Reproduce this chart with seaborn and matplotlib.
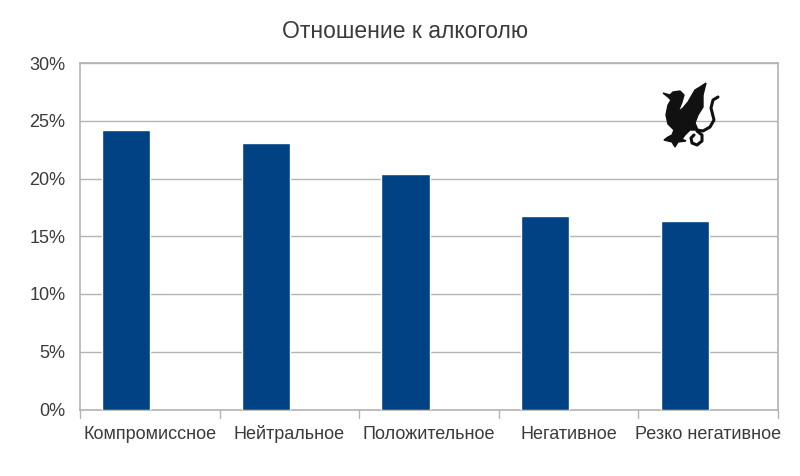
import matplotlib
matplotlib.use("Agg")
import matplotlib.pyplot as plt
import pandas as pd
import seaborn as sns

# Data
categories = ['Компромиссное', 'Нейтральное', 'Положительное', 'Негативное', 'Резко негативное']
values = [24.2, 23.1, 20.4, 16.75, 16.35]
y_ticks = [0, 5, 10, 15, 20, 25, 30]
y_labels = ['0%', '5%', '10%', '15%', '20%', '25%', '30%']

# dragon emblem, traced in image pixels
dragon_body = [(663, 93), (670, 95), (673, 92), (680, 91), (684, 95), (682, 102), (678, 112),
               (683, 108), (688, 102), (695, 90), (700, 87), (706, 83), (703, 95), (703, 107),
               (698, 115), (695, 123), (698, 130), (690, 130), (685, 135), (682, 139), (686, 141),
               (678, 142), (675, 147), (672, 142), (664, 140), (668, 137), (672, 135), (674, 130),
               (668, 124), (666, 115), (668, 105), (671, 100), (668, 97)]
dragon_tail = [(697, 130), (703, 131), (710, 127), (714, 120), (711, 108), (713, 100), (718, 97)]
dragon_coil = [(697, 131), (702, 135), (702, 141), (697, 145), (692, 143), (691, 138), (694, 135)]

sns.set_style("white")
plt.rcParams['font.family'] = ['Liberation Sans', 'DejaVu Sans']

df = pd.DataFrame({'cat': categories, 'val': values})

fig = plt.figure(figsize=(8, 4.76), dpi=100)
ax = fig.add_axes([80 / 800, 1 - 409.5 / 476, (778 - 80) / 800, (409.5 - 63) / 476])

sns.barplot(data=df, x='cat', y='val', color='#004283', saturation=1, width=0.345, ax=ax, zorder=3)

# bars sit left of the label centres, so shift the category window
shift = 0.168
ax.set_ylim(0, 30)
ax.set_xlim(-0.5 + shift, 4.5 + shift)
ax.set_yticks(y_ticks)
ax.set_yticklabels(y_labels, fontsize=13, color='#3a3a3a')
ax.set_xticks([i + shift for i in range(5)])
ax.set_xticklabels(categories, fontsize=13, color='#3a3a3a', va='baseline')
ax.set_xlabel('')
ax.set_ylabel('')
ax.yaxis.grid(True, color='#b3b3b3', linewidth=1)
ax.set_axisbelow(True)
ax.tick_params(axis='y', length=5, width=1, color='#b3b3b3', pad=5.5)
ax.tick_params(axis='x', length=0, pad=21)
# category separators under the axis
for i in range(6):
    ax.plot([i - 0.5 + shift] * 2, [0, -0.7], color='#b3b3b3', lw=1, clip_on=False)
for s in ax.spines.values():
    s.set_color('#b3b3b3')
    s.set_linewidth(1.2)


def to_fig(points):
    return [px / 800 for px, py in points], [1 - py / 476 for px, py in points]


xs, ys = to_fig(dragon_body)
fig.patches.append(plt.Polygon(list(zip(xs, ys)), closed=True, transform=fig.transFigure, color='#111111', zorder=5))
for part in [dragon_tail, dragon_coil]:
    xs, ys = to_fig(part)
    fig.add_artist(plt.Line2D(xs, ys, color='#111111', lw=2.2, zorder=5))

fig.text(405 / 800, 1 - 32 / 476, 'Отношение к алкоголю', ha='center', va='center', fontsize=16.5, color='#3a3a3a')

fig.savefig('out.png', dpi=100)
